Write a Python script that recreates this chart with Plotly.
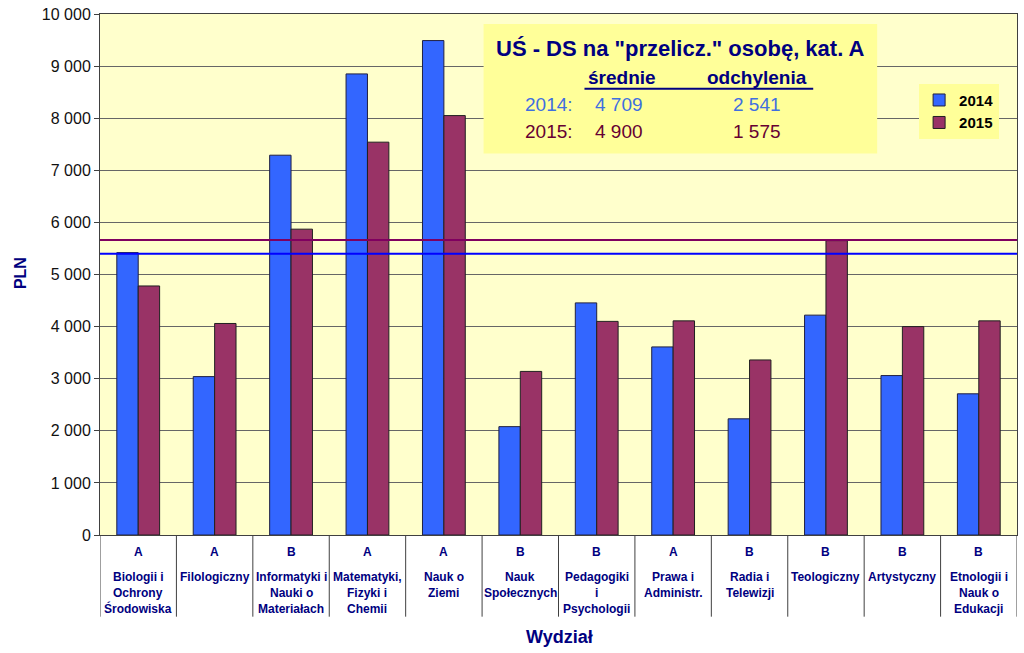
import plotly.graph_objects as go

# ---- data ----
categories = ["Biologii i<br>Ochrony<br>Środowiska", "Filologiczny", "Informatyki i<br>Nauki o<br>Materiałach",
              "Matematyki,<br>Fizyki i<br>Chemii", "Nauk o<br>Ziemi", "Nauk<br>Społecznych",
              "Pedagogiki<br>i<br>Psychologii", "Prawa i<br>Administr.", "Radia i<br>Telewizji",
              "Teologiczny", "Artystyczny", "Etnologii i<br>Nauk o<br>Edukacji"]
kat = ["A", "A", "B", "A", "A", "B", "B", "A", "B", "B", "B", "B"]
v2014 = [5420, 3040, 7290, 8850, 9490, 2080, 4455, 3610, 2230, 4220, 3060, 2710]
v2015 = [4780, 4060, 5870, 7540, 8050, 3140, 4100, 4110, 3360, 5650, 4000, 4110]
mean_line_2014 = 5400
mean_line_2015 = 5660
yticks = [0, 1000, 2000, 3000, 4000, 5000, 6000, 7000, 8000, 9000, 10000]

# ---- layout helpers (pixel -> paper) ----
L, R, T, B = 100, 1018, 12, 535
def px(x):
    return (x - L) / (R - L)
def py(y):
    return (B - y) / (B - T)

FONT = "Arial, Liberation Sans, sans-serif"
NAVY = "#000080"

idx = list(range(len(categories)))
fig = go.Figure()
fig.add_trace(go.Bar(x=idx, y=v2014, name="2014", marker=dict(color="#3366FF", line=dict(color="#202040", width=1))))
fig.add_trace(go.Bar(x=idx, y=v2015, name="2015", marker=dict(color="#993366", line=dict(color="#202020", width=1))))

shapes = []
# mean lines
shapes.append(dict(type="line", xref="paper", yref="y", x0=0, x1=1, y0=mean_line_2014, y1=mean_line_2014,
                   line=dict(color="#0000FF", width=2)))
shapes.append(dict(type="line", xref="paper", yref="y", x0=0, x1=1, y0=mean_line_2015, y1=mean_line_2015,
                   line=dict(color="#800060", width=2)))
# category separators below axis
for i in range(len(categories) + 1):
    shapes.append(dict(type="line", xref="x", yref="paper", x0=i - 0.5, x1=i - 0.5, y0=0, y1=py(617),
                       line=dict(color="#404040", width=1)))
# info box
shapes.append(dict(type="rect", xref="paper", yref="paper", x0=px(484), x1=px(878), y0=py(152), y1=py(22),
                   fillcolor="#FFFF99", line=dict(width=0), layer="above"))
shapes.append(dict(type="line", xref="paper", yref="paper", x0=px(585), x1=px(814), y0=py(87), y1=py(87),
                   line=dict(color=NAVY, width=2), layer="above"))

annotations = []
for i, (k, name) in enumerate(zip(kat, categories)):
    annotations.append(dict(x=i, y=py(552), xref="x", yref="paper", text="<b>%s</b>" % k, showarrow=False,
                            font=dict(family=FONT, size=12, color=NAVY), xanchor="center", yanchor="middle"))
    for j, line in enumerate(name.split("<br>")):
        annotations.append(dict(x=i, y=py(577 + 16 * j), xref="x", yref="paper", text="<b>%s</b>" % line,
                                showarrow=False, font=dict(family=FONT, size=12, color=NAVY),
                                xanchor="center", yanchor="middle"))

annotations.append(dict(x=px(560), y=py(637), xref="paper", yref="paper", text="<b>Wydział</b>", showarrow=False,
                        font=dict(family=FONT, size=18, color=NAVY), xanchor="center", yanchor="middle"))
annotations.append(dict(x=px(20), y=py(272), xref="paper", yref="paper", text="<b>PLN</b>", showarrow=False,
                        textangle=-90, font=dict(family=FONT, size=16, color=NAVY), xanchor="center", yanchor="middle"))

# info box texts
annotations.append(dict(x=px(681), y=py(47), xref="paper", yref="paper", text="<b>UŚ - DS na \"przelicz.\" osobę, kat. A</b>",
                        showarrow=False, font=dict(family=FONT, size=22, color=NAVY), xanchor="center", yanchor="middle"))
annotations.append(dict(x=px(623), y=py(76), xref="paper", yref="paper", text="<b>średnie</b>",
                        showarrow=False, font=dict(family=FONT, size=19, color=NAVY), xanchor="center", yanchor="middle"))
annotations.append(dict(x=px(758), y=py(76), xref="paper", yref="paper", text="<b>odchylenia</b>",
                        showarrow=False, font=dict(family=FONT, size=19, color=NAVY), xanchor="center", yanchor="middle"))
rows = [("2014:", "4 709", "2 541", "#3F6FE0", 103), ("2015:", "4 900", "1 575", "#660033", 130)]
for lab, m, s, col, yy in rows:
    annotations.append(dict(x=px(549), y=py(yy), xref="paper", yref="paper", text=lab, showarrow=False,
                            font=dict(family=FONT, size=19, color=col), xanchor="center", yanchor="middle"))
    annotations.append(dict(x=px(620), y=py(yy), xref="paper", yref="paper", text=m, showarrow=False,
                            font=dict(family=FONT, size=19, color=col), xanchor="center", yanchor="middle"))
    annotations.append(dict(x=px(758), y=py(yy), xref="paper", yref="paper", text=s, showarrow=False,
                            font=dict(family=FONT, size=19, color=col), xanchor="center", yanchor="middle"))

fig.update_layout(
    width=1024, height=653,
    margin=dict(l=L, r=1024 - R, t=T, b=653 - B),
    paper_bgcolor="white", plot_bgcolor="#FFFFCC",
    separators=". ",
    barmode="group", bargap=0.44, bargroupgap=0,
    showlegend=True,
    legend=dict(x=px(920), y=py(82), xanchor="left", yanchor="top", bgcolor="#FFFF99",
                font=dict(family=FONT, size=15, color="black"), traceorder="normal",
                itemwidth=30, tracegroupgap=2),
    xaxis=dict(range=[-0.5, len(categories) - 0.5], showticklabels=False, ticks="", showgrid=False,
               zeroline=False, showline=True, linecolor="#404040", mirror=True),
    yaxis=dict(range=[0, 10000], tickvals=yticks, tickformat=",d", ticks="outside", ticklen=5,
               tickcolor="#404040", showgrid=True, gridcolor="#666666", gridwidth=1, zeroline=False,
               showline=True, linecolor="#404040", mirror=True,
               tickfont=dict(family=FONT, size=16, color="#111111")),
    shapes=shapes, annotations=annotations,
    font=dict(family=FONT),
)
fig.for_each_trace(lambda t: t.update(name="<b>%s</b>" % t.name))
fig.write_html("out.html", config={"displayModeBar": False},
               post_script="document.body.style.margin='0';document.body.style.padding='0';")
